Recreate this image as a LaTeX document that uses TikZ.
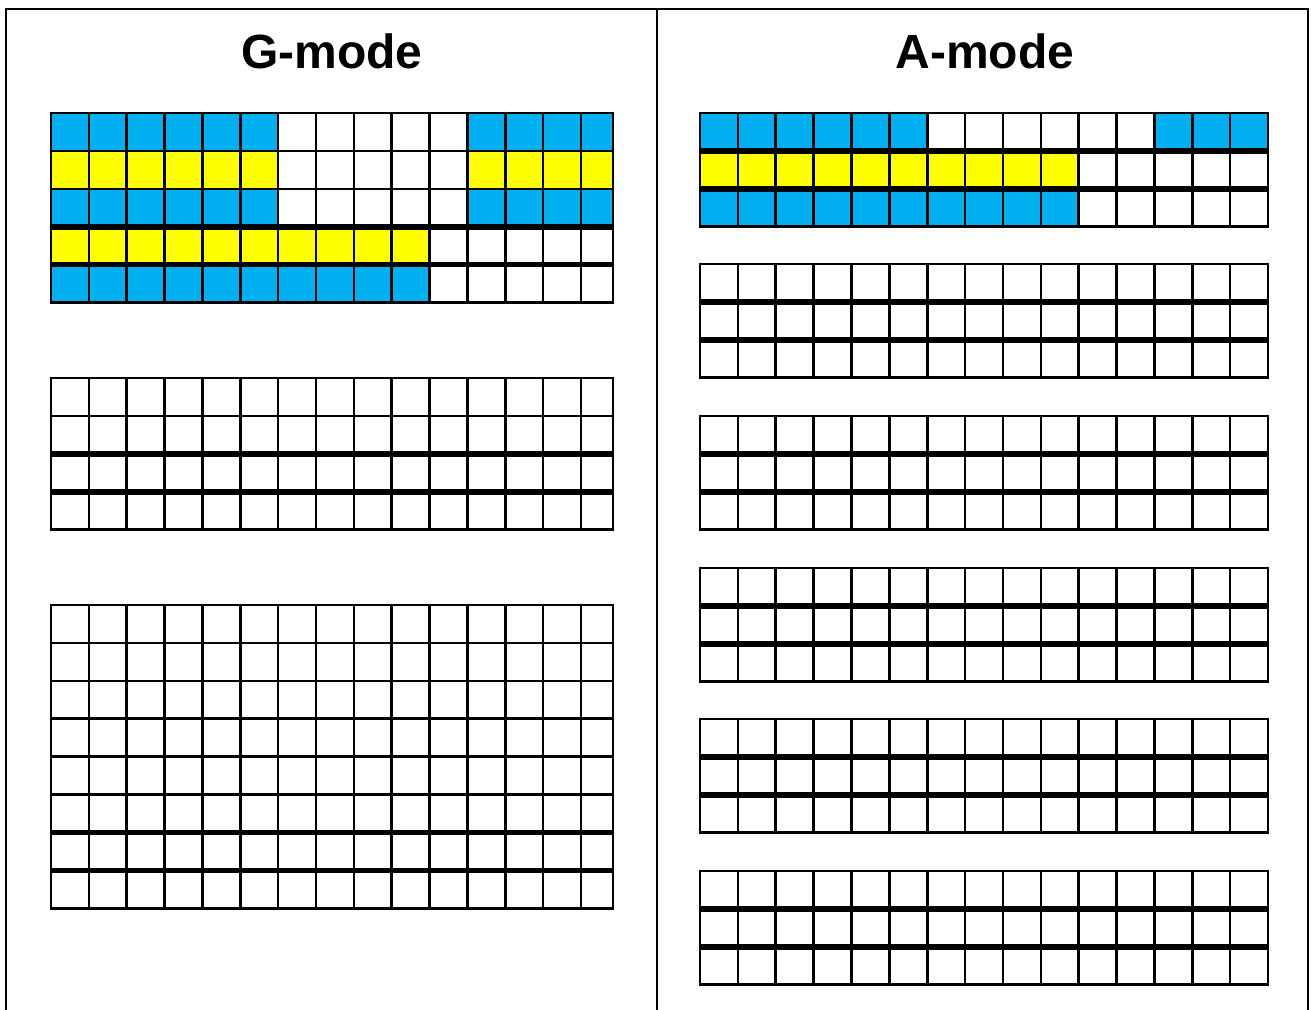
\documentclass[tikz,border=0pt]{standalone}
\usepackage{fontspec}
\setmainfont{Liberation Sans}
\definecolor{cellblue}{HTML}{00B0F0}
\definecolor{cellyellow}{HTML}{FFFF00}
\tikzset{
  gridline/.style={line width=2.6pt, black},
  thickrule/.style={line width=5.6pt, black},
  gridborder/.style={line width=2.8pt, black},
  framerule/.style={line width=2.2pt, black},
  titletext/.style={font=\fontsize{48}{51}\selectfont\bfseries, anchor=base, inner sep=0pt},
  bluecell/.style={fill=cellblue},
  yellowcell/.style={fill=cellyellow}
}
% #1 left, #2 column step, #3 right, #4 top, #5 rows
\newcommand{\drawcellgrid}[5]{%
  \pgfmathsetmacro{\gridbot}{#4+#5*37.9}
  \foreach \kk in {1,...,14} {
    \draw[gridline] ({#1+\kk*#2},#4) -- ({#1+\kk*#2},\gridbot);
  }
  \pgfmathtruncatemacro{\lastrow}{#5-3}
  \ifnum\lastrow>0
    \foreach \rr in {1,...,\lastrow} {
      \draw[gridline] (#1,{#4+\rr*37.9}) -- (#3,{#4+\rr*37.9});
    }
  \fi
  \draw[thickrule] (#1,{#4+(#5-2)*37.9}) -- (#3,{#4+(#5-2)*37.9});
  \draw[thickrule] (#1,{#4+(#5-1)*37.9}) -- (#3,{#4+(#5-1)*37.9});
  \draw[gridborder] (#1,#4) rectangle (#3,\gridbot);
}
\begin{document}
\begin{tikzpicture}[x=1pt,y=-1pt]
\useasboundingbox (0,0) rectangle (1311,1009);
\fill[white] (0,0) rectangle (1311,1009);

% frame
\draw[framerule] (6,1015) -- (6,9) -- (1308,9) -- (1308,1015);
\draw[framerule] (657,9) -- (657,1015);

% titles
\node[titletext] (gtitle) at (332,68) {G-mode};
\node[titletext] (atitle) at (985,68) {A-mode};

% G-mode coloured cells
\fill[bluecell]   (51,113)    rectangle (278.1,150.9);
\fill[bluecell]   (467.35,113) rectangle (613,150.9);
\fill[yellowcell] (51,150.9)  rectangle (278.1,188.8);
\fill[yellowcell] (467.35,150.9) rectangle (613,188.8);
\fill[bluecell]   (51,188.8)  rectangle (278.1,226.7);
\fill[bluecell]   (467.35,188.8) rectangle (613,226.7);
\fill[yellowcell] (51,226.7)  rectangle (429.5,264.6);
\fill[bluecell]   (51,264.6)  rectangle (429.5,302.5);

% A-mode coloured cells
\fill[bluecell]   (700,113)    rectangle (927.2,150.9);
\fill[bluecell]   (1154.4,113) rectangle (1268,150.9);
\fill[yellowcell] (700,150.9)  rectangle (1078.7,188.8);
\fill[bluecell]   (700,188.8)  rectangle (1078.7,226.7);

% G-mode grids
\drawcellgrid{51}{37.85}{613}{113}{5}
\drawcellgrid{51}{37.85}{613}{378}{4}
\drawcellgrid{51}{37.85}{613}{605}{8}

% A-mode grids
\drawcellgrid{700}{37.87}{1268}{113}{3}
\drawcellgrid{700}{37.87}{1268}{264}{3}
\drawcellgrid{700}{37.87}{1268}{416}{3}
\drawcellgrid{700}{37.87}{1268}{568}{3}
\drawcellgrid{700}{37.87}{1268}{719}{3}
\drawcellgrid{700}{37.87}{1268}{871}{3}
\end{tikzpicture}
\end{document}
